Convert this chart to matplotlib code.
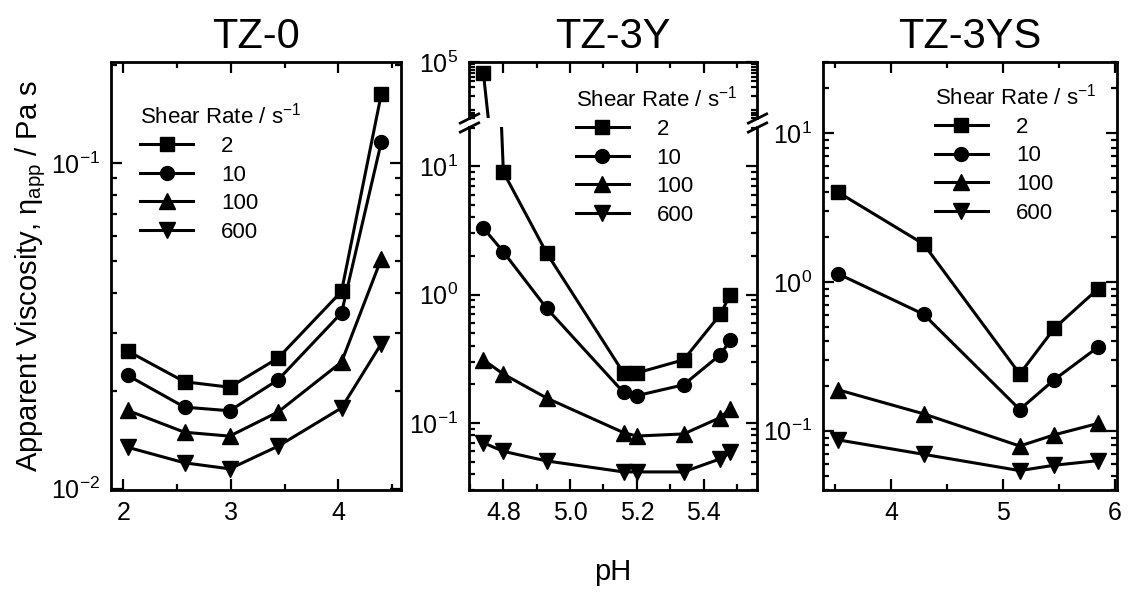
import matplotlib
matplotlib.use("Agg")
import matplotlib.pyplot as plt
from matplotlib.ticker import LogLocator, MultipleLocator, NullFormatter, FormatStrFormatter, FixedLocator
from matplotlib.lines import Line2D

plt.rcParams['font.family'] = ['Liberation Sans', 'DejaVu Sans']
plt.rcParams['mathtext.fontset'] = 'custom'
plt.rcParams['mathtext.rm'] = 'Liberation Sans'
plt.rcParams['mathtext.it'] = 'Liberation Sans:italic'
plt.rcParams['mathtext.bf'] = 'Liberation Sans:bold'

# ---- data -------------------------------------------------------------
shear_rates = ["2", "10", "100", "600"]

# TZ-0
ph_tz0 = [2.04, 2.57, 2.99, 3.44, 4.03, 4.40]
tz0_r2 = [0.0265, 0.0213, 0.0205, 0.0252, 0.0404, 0.1636]
tz0_r10 = [0.0223, 0.0178, 0.01735, 0.0216, 0.0347, 0.1164]
tz0_r100 = [0.0174, 0.0149, 0.0145, 0.0172, 0.0245, 0.0509]
tz0_r600 = [0.0134, 0.0120, 0.0115, 0.0135, 0.0177, 0.0279]

# TZ-3Y
ph_3y = [4.74, 4.80, 4.93, 5.16, 5.20, 5.34, 5.45, 5.48]
tz3y_r2 = [6.0e4, 9.0, 2.1, 0.245, 0.245, 0.31, 0.70, 1.0]
tz3y_r10 = [3.3, 2.15, 0.78, 0.173, 0.163, 0.198, 0.34, 0.44]
tz3y_r100 = [0.31, 0.24, 0.156, 0.084, 0.079, 0.082, 0.11, 0.129]
tz3y_r600 = [0.070, 0.060, 0.0505, 0.0415, 0.0415, 0.0415, 0.0525, 0.059]

# TZ-3YS
ph_3ys = [3.52, 4.29, 5.15, 5.46, 5.85]
tz3ys_r2 = [4.03, 1.80, 0.241, 0.489, 0.90]
tz3ys_r10 = [1.14, 0.607, 0.139, 0.221, 0.365]
tz3ys_r100 = [0.189, 0.130, 0.079, 0.094, 0.112]
tz3ys_r600 = [0.087, 0.0695, 0.054, 0.0587, 0.063]

markers = ['s', 'o', '^', 'v']
msizes = [9.5, 10, 11, 11]

FS_TICK = 18
FS_LEG = 16
LW = 2.2

fig = plt.figure(figsize=(11.28, 5.99), dpi=100)
W, H = 1128.0, 599.0


def box(x0, y0, x1, y1):
    return [x0 / W, 1 - y1 / H, (x1 - x0) / W, (y1 - y0) / H]


def style(ax):
    ax.tick_params(which='both', direction='in', top=True, right=True,
                   labelsize=FS_TICK, width=1.6, pad=8)
    ax.tick_params(which='major', length=8)
    ax.tick_params(which='minor', length=4.5)
    for s in ax.spines.values():
        s.set_linewidth(2.0)
    ax.yaxis.set_minor_formatter(NullFormatter())


def draw(ax, x, series):
    for ys, m, ms in zip(series, markers, msizes):
        ax.plot(x, ys, color='k', lw=LW, marker=m, ms=ms, mfc='k', mec='k')


def legend(ax, x, y):
    handles = [Line2D([], [], color='k', lw=LW, marker=m, ms=ms)
               for m, ms in zip(markers, msizes)]
    leg = ax.legend(handles, shear_rates, title="Shear Rate / s$^{\\mathregular{-1}}$",
                    loc='upper left', bbox_to_anchor=(x, y), frameon=False,
                    fontsize=FS_LEG, title_fontsize=FS_LEG, handlelength=2.4,
                    handletextpad=1.25, labelspacing=0.34, borderpad=0,
                    borderaxespad=0, numpoints=1, alignment='left')
    return leg


TOP, BOT = 62, 490

# ---- TZ-0 --------------------------------------------------------------
ax1 = fig.add_axes(box(111, TOP, 401, BOT))
ax1.set_yscale('log')
draw(ax1, ph_tz0, [tz0_r2, tz0_r10, tz0_r100, tz0_r600])
ax1.set_xlim(1.886, 4.583)
ax1.set_ylim(0.0099, 0.205)
ax1.xaxis.set_major_locator(MultipleLocator(1))
ax1.xaxis.set_minor_locator(MultipleLocator(0.5))
ax1.yaxis.set_major_locator(LogLocator(base=10))
ax1.yaxis.set_minor_locator(LogLocator(base=10, subs=range(2, 10)))
style(ax1)
ax1.set_title("TZ-0", fontsize=30, pad=10)
ax1.set_ylabel("Apparent Viscosity, \u03b7$_{\\mathregular{app}}$ / Pa s", fontsize=21, labelpad=2)
legend(ax1, 0.1, 0.905)

# ---- TZ-3Y (broken axis) ------------------------------------------------
ax2 = fig.add_axes(box(469, 127, 757, BOT))
ax2u = fig.add_axes(box(469, TOP, 757, 118), sharex=ax2)
for a in (ax2, ax2u):
    a.set_yscale('log')
    draw(a, ph_3y, [tz3y_r2, tz3y_r10, tz3y_r100, tz3y_r600])
ax2.set_xlim(4.697, 5.56)
ax2.set_ylim(0.03, 20.2)
ax2u.set_ylim(7e3, 1.0e5)
ax2.xaxis.set_major_locator(MultipleLocator(0.2))
ax2.xaxis.set_minor_locator(MultipleLocator(0.1))
ax2.xaxis.set_major_formatter(FormatStrFormatter('%.1f'))
ax2.yaxis.set_major_locator(LogLocator(base=10))
ax2.yaxis.set_minor_locator(LogLocator(base=10, subs=range(2, 10)))
ax2u.yaxis.set_major_locator(FixedLocator([1e5]))
ax2u.yaxis.set_minor_locator(LogLocator(base=10, subs=range(1, 10)))
style(ax2)
style(ax2u)
ax2.spines['top'].set_visible(False)
ax2.tick_params(which='both', top=False)
ax2u.spines['bottom'].set_visible(False)
ax2u.tick_params(which='both', bottom=False, labelbottom=False)
ax2u.set_title("TZ-3Y", fontsize=30, pad=10)
ax2.set_xlabel("pH", fontsize=21, labelpad=24)
legend(ax2u, 0.37, 0.58)

# break marks on both spines
brk = dict(marker=[(-1, -0.5), (1, 0.5)], markersize=15, linestyle='none',
           color='k', mec='k', mew=2.0, clip_on=False)
ax2u.plot([0, 1], [0, 0], transform=ax2u.transAxes, **brk)
ax2.plot([0, 1], [1, 1], transform=ax2.transAxes, **brk)

# ---- TZ-3YS -------------------------------------------------------------
ax3 = fig.add_axes(box(823, TOP, 1117, BOT))
ax3.set_yscale('log')
draw(ax3, ph_3ys, [tz3ys_r2, tz3ys_r10, tz3ys_r100, tz3ys_r600])
ax3.set_xlim(3.39, 6.02)
ax3.set_ylim(0.040, 30.1)
ax3.xaxis.set_major_locator(MultipleLocator(1))
ax3.xaxis.set_minor_locator(MultipleLocator(0.5))
ax3.yaxis.set_major_locator(LogLocator(base=10))
ax3.yaxis.set_minor_locator(LogLocator(base=10, subs=range(2, 10)))
style(ax3)
ax3.set_title("TZ-3YS", fontsize=30, pad=10)
legend(ax3, 0.38, 0.95)

fig.savefig("out.png", dpi=100)
